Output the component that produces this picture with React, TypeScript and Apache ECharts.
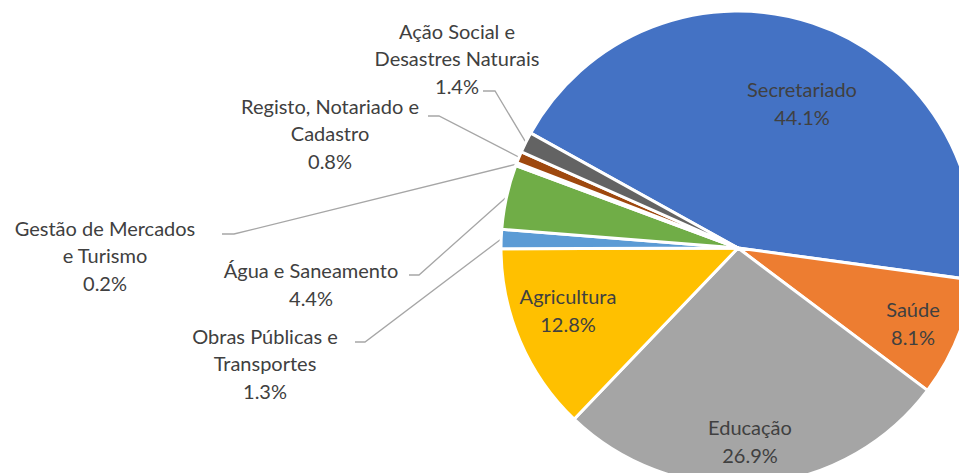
import React, { useEffect, useRef } from "react";
import * as echarts from "echarts";

// ---- data ----
const categories = [
  "Secretariado",
  "Saúde",
  "Educação",
  "Agricultura",
  "Obras Públicas e Transportes",
  "Água e Saneamento",
  "Gestão de Mercados e Turismo",
  "Registo, Notariado e Cadastro",
  "Ação Social e Desastres Naturais",
];
const values = [44.1, 8.1, 26.9, 12.8, 1.3, 4.4, 0.2, 0.8, 1.4];
const labelTexts = [
  "Secretariado",
  "Saúde",
  "Educação",
  "Agricultura",
  "Obras Públicas e\nTransportes",
  "Água e Saneamento",
  "Gestão de Mercados\ne Turismo",
  "Registo, Notariado e\nCadastro",
  "Ação Social e\nDesastres Naturais",
];
const colors = [
  "#4472C4",
  "#ED7D31",
  "#A5A5A5",
  "#FFC000",
  "#5B9BD5",
  "#70AD47",
  "#264478",
  "#9E480E",
  "#636363",
];

// ---- label layout (label centres, leader-line start points) ----
const labelCenters: number[][] = [
  [802, 103],
  [913, 323],
  [750, 441],
  [568, 310],
  [265, 363],
  [311, 284],
  [105, 255],
  [330, 133],
  [457, 58],
];
const leaderStarts: (number[] | null)[] = [
  null,
  null,
  null,
  null,
  [355, 342],
  [409, 275],
  [222, 234],
  [428, 116],
  [483, 91],
];
const leaderRun = [0, 0, 0, 0, 10, 10, 12, 11, 12];

export default function App() {
  const ref = useRef<HTMLDivElement>(null);

  useEffect(() => {
    if (!ref.current) return;
    const chart = echarts.init(ref.current, undefined, { renderer: "svg" });
    const data = categories.map((name, i) => ({
      name,
      value: values[i],
      itemStyle: { color: colors[i] },
      labelLine: { show: leaderStarts[i] != null },
    }));
    chart.setOption({
      animation: false,
      backgroundColor: "#ffffff",
      series: [
        {
          type: "pie",
          center: [738, 248],
          radius: 237,
          startAngle: 151,
          clockwise: true,
          avoidLabelOverlap: false,
          itemStyle: { borderColor: "#ffffff", borderWidth: 3 },
          label: {
            show: true,
            position: "outside",
            color: "#404040",
            fontFamily: "Lato",
            fontSize: 20,
            lineHeight: 27.5,
            align: "center",
            formatter: (p: any) =>
              labelTexts[p.dataIndex] + "\n" + values[p.dataIndex].toFixed(1) + "%",
          },
          labelLine: {
            show: true,
            length: 10,
            length2: 10,
            lineStyle: { color: "#A6A6A6", width: 1.3 },
          },
          labelLayout: (params: any) => {
            const i = params.dataIndex;
            const c = labelCenters[i];
            const res: any = {
              x: c[0],
              y: c[1],
              align: "center",
              verticalAlign: "middle",
            };
            const s = leaderStarts[i];
            if (s && params.labelLinePoints) {
              const p0 = params.labelLinePoints[0];
              res.labelLinePoints = [
                [p0[0], p0[1]],
                [s[0] + leaderRun[i], s[1]],
                [s[0], s[1]],
              ];
            }
            return res;
          },
          data,
        },
      ],
    });
    return () => chart.dispose();
  }, []);

  return (
    <div
      ref={ref}
      style={{ position: "absolute", left: 0, top: 0, width: 959, height: 473 }}
    />
  );
}
